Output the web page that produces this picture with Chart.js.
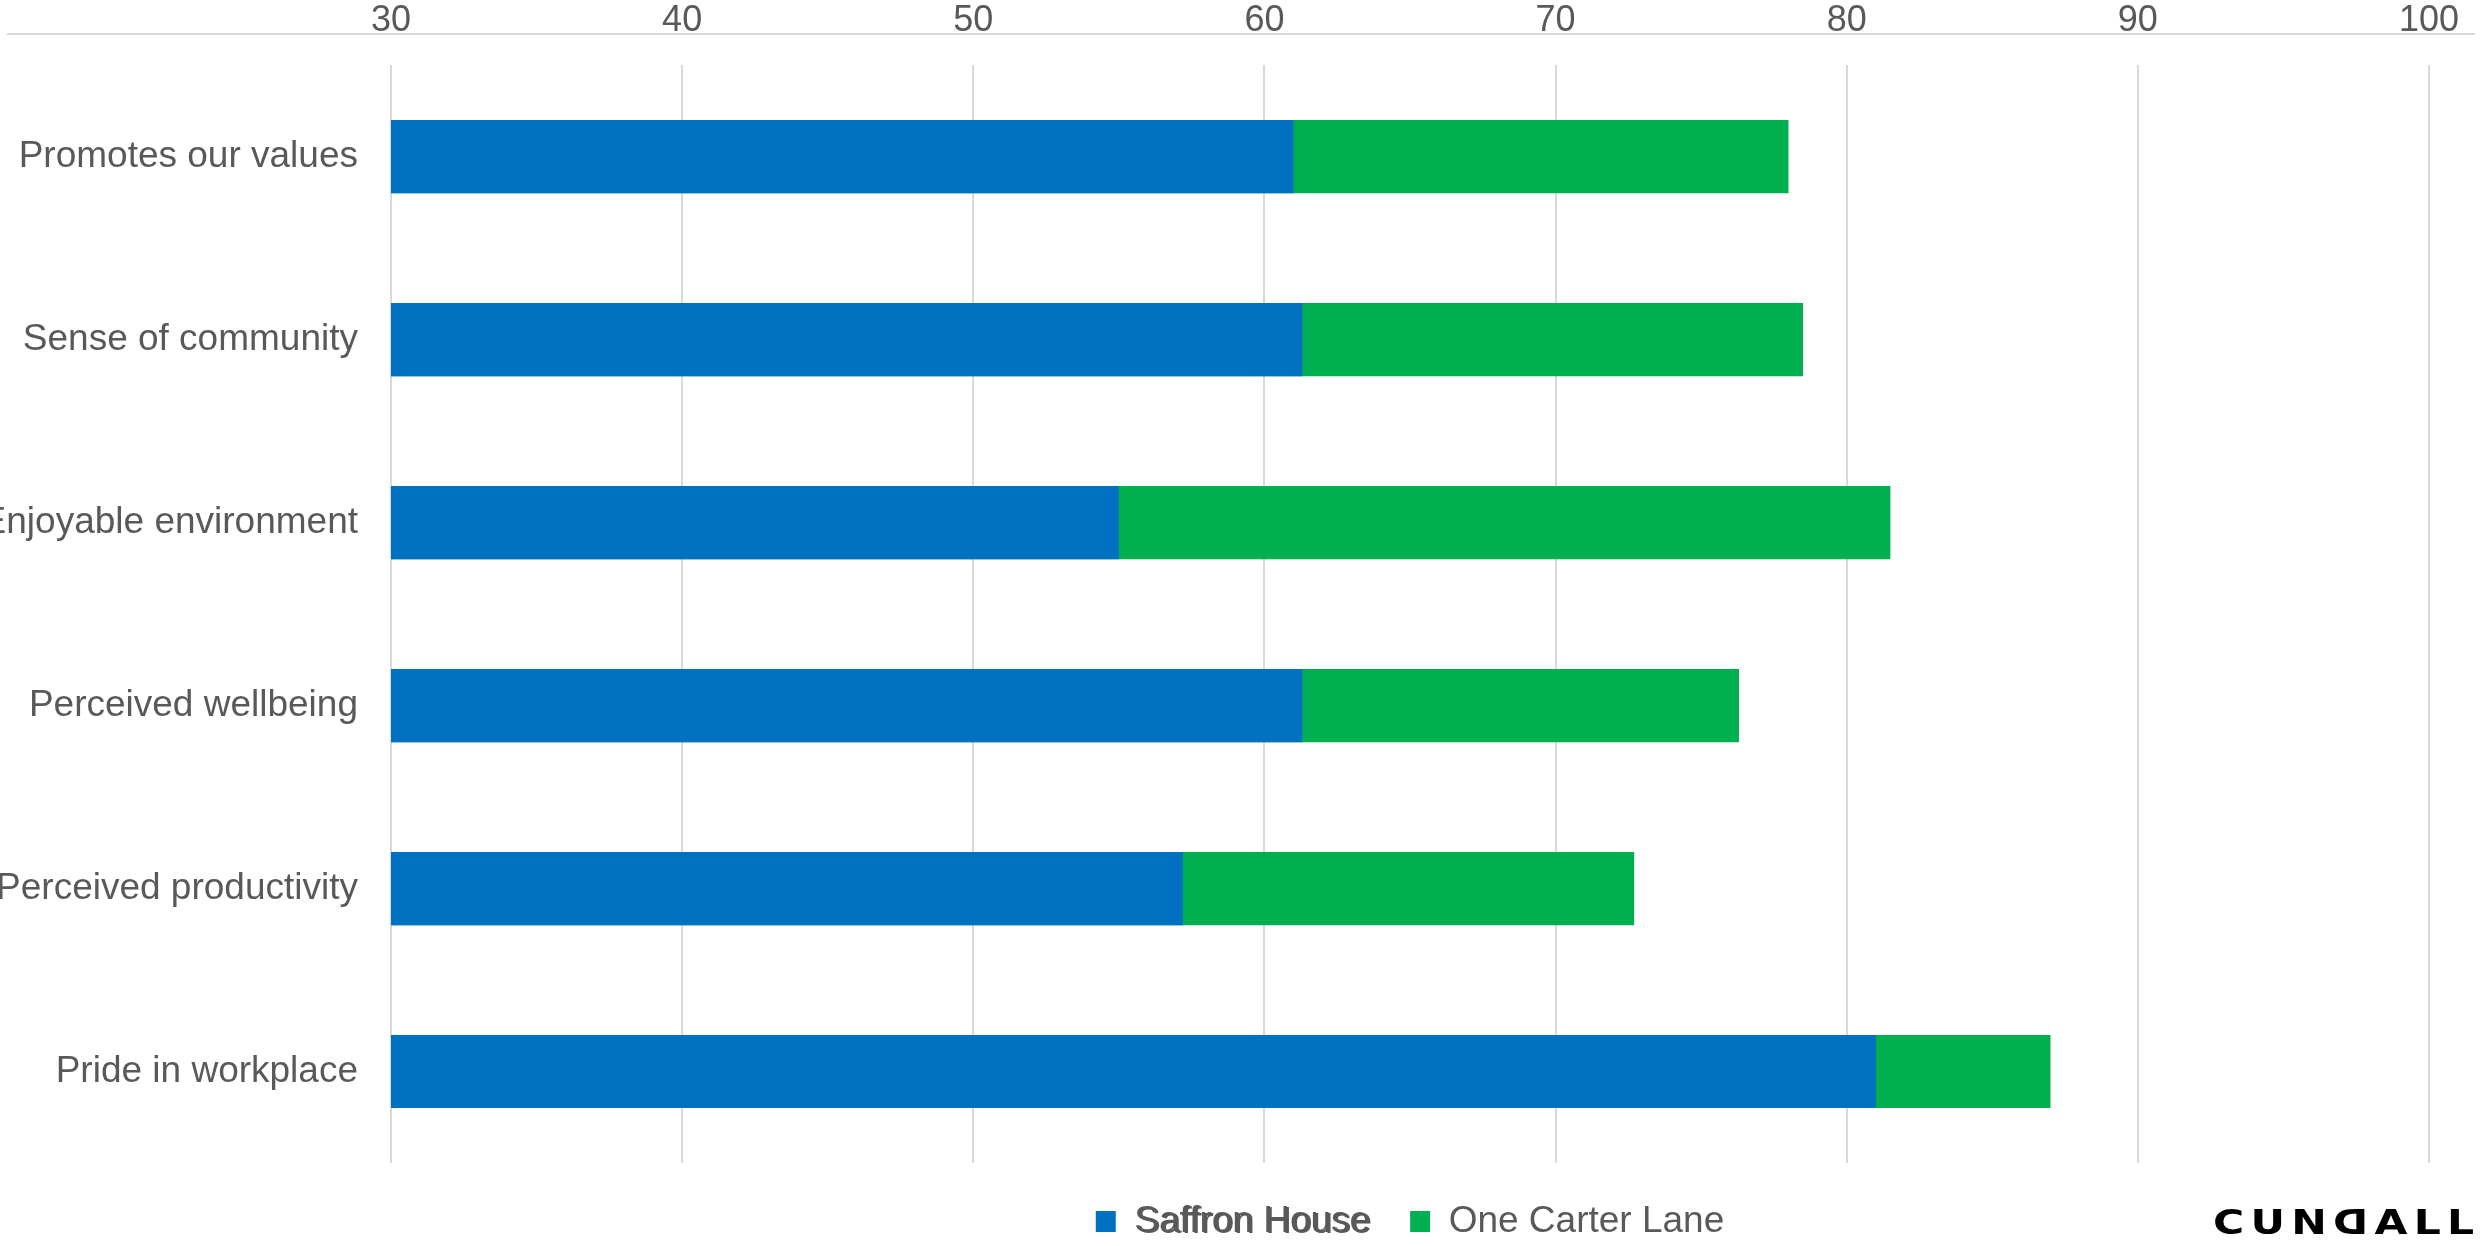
<!DOCTYPE html>
<html>
<head>
<meta charset="utf-8">
<title>Workplace perception scores</title>
<script src="https://cdn.jsdelivr.net/npm/chart.js@4.4.1/dist/chart.umd.min.js"></script>
<style>
  html, body { margin: 0; padding: 0; background: #ffffff; }
  #wrap { position: relative; width: 2483px; height: 1246px; overflow: hidden; }
  canvas { display: block; }
  #logo {
    position: absolute; left: 2213px; top: 1205px;
    font-family: "DejaVu Sans", sans-serif; font-weight: bold; font-size: 34px;
    letter-spacing: 5px; color: #000; line-height: 1; white-space: nowrap;
    transform: scaleX(1.25); transform-origin: left top;
  }
  #logo .rev { display: inline-block; transform: scaleX(-1); letter-spacing: 0; margin-right: 5px; }
</style>
</head>
<body>
<div id="wrap">
  <canvas id="chart" width="2483" height="1246"></canvas>
  <div id="logo">CUN<span class="rev">D</span>ALL</div>
</div>
<script>
// Survey categories, top to bottom
const categories = [
  'Promotes our values',
  'Sense of community',
  'Enjoyable environment',
  'Perceived wellbeing',
  'Perceived productivity',
  'Pride in workplace'
];

// Scores per building
const saffronHouse  = [61.0, 61.3, 55.0, 61.3, 57.2, 81.0];
const oneCarterLane = [78.0, 78.5, 81.5, 76.3, 72.7, 87.0];

// Value axis range and tick spacing
const axisMin = 30;
const axisMax = 100;
const axisStep = 10;

const seriesNames = ['Saffron House', 'One Carter Lane'];
const seriesColors = ['#0070C0', '#00B050'];

const labelGrey = '#595959';
const FONT = '"Liberation Sans", Arial, sans-serif';

// Thin rule running under the value-axis labels, across the page width
const topRule = {
  id: 'topRule',
  afterDraw(chart) {
    const ctx = chart.ctx;
    const y = Math.round(chart.chartArea.top - 31);
    ctx.save();
    ctx.strokeStyle = '#d9d9d9';
    ctx.lineWidth = 2;
    ctx.beginPath();
    ctx.moveTo(7, y);
    ctx.lineTo(2475, y);
    ctx.stroke();
    ctx.restore();
  }
};

// Slightly heavier, ghosted look for the first legend entry
const legendGhost = {
  id: 'legendGhost',
  afterDraw(chart) {
    const leg = chart.legend;
    if (!leg || !leg.legendHitBoxes || !leg.legendHitBoxes.length) return;
    const hb = leg.legendHitBoxes[0];
    const opts = leg.options.labels;
    const fs = opts.font.size;
    const ctx = chart.ctx;
    ctx.save();
    ctx.font = fs + 'px ' + FONT;
    ctx.fillStyle = labelGrey;
    ctx.textBaseline = 'middle';
    ctx.textAlign = 'left';
    ctx.fillText(leg.legendItems[0].text, hb.left + opts.boxWidth + fs / 2 + 2, hb.top + hb.height / 2 + 1);
    ctx.restore();
  }
};

new Chart(document.getElementById('chart'), {
  type: 'bar',
  data: {
    labels: categories,
    datasets: [
      { label: seriesNames[0], data: saffronHouse,  backgroundColor: seriesColors[0], borderWidth: 0 },
      { label: seriesNames[1], data: oneCarterLane, backgroundColor: seriesColors[1], borderWidth: 0 }
    ]
  },
  options: {
    indexAxis: 'y',
    responsive: false,
    animation: false,
    events: [],
    grouped: false,
    barPercentage: 0.8,
    categoryPercentage: 0.5,
    layout: { padding: { top: -24, right: 54, bottom: -4, left: 0 } },
    scales: {
      x: {
        position: 'top',
        min: axisMin,
        max: axisMax,
        ticks: {
          stepSize: axisStep,
          color: labelGrey,
          font: { family: FONT, size: 36 },
          padding: 23
        },
        grid: { color: '#d9d9d9', lineWidth: 2, drawTicks: false },
        border: { display: false }
      },
      y: {
        ticks: {
          color: labelGrey,
          font: { family: FONT, size: 37 },
          padding: 33,
          crossAlign: 'near'
        },
        grid: { display: false, drawTicks: false },
        border: { display: false },
        afterFit(scale) { scale.width = 391; }
      }
    },
    plugins: {
      legend: {
        position: 'bottom',
        fullSize: false,
        labels: {
          boxWidth: 20,
          boxHeight: 21,
          color: labelGrey,
          font: { family: FONT, size: 37 },
          padding: 40
        }
      },
      tooltip: { enabled: false }
    }
  },
  plugins: [topRule, legendGhost]
});
</script>
</body>
</html>
